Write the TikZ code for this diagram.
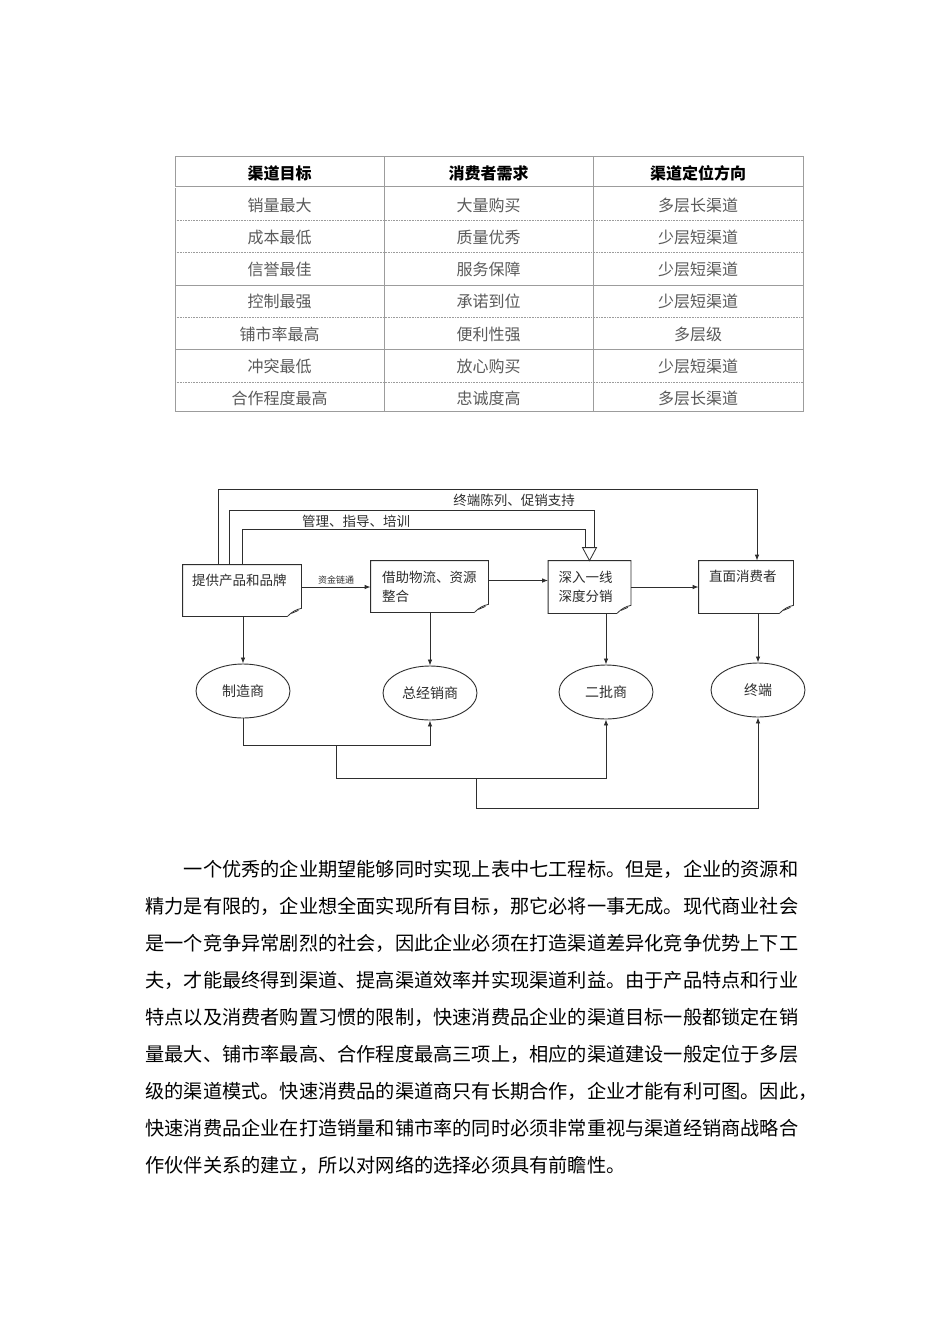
\documentclass[tikz,border=0pt]{standalone}
\usepackage{fontspec}
\setmainfont{Noto Sans CJK SC}
\usetikzlibrary{arrows.meta, positioning, calc, shapes.geometric}
\definecolor{inkgray}{HTML}{2E2E2E}
\definecolor{rulegray}{HTML}{9C9C9C}
\definecolor{cellgray}{HTML}{5A5A5A}

% outline of a note box with a curled lower right corner
\newcommand{\dogear}[1]{%
  \draw[flow] ([xshift=-14]#1.south east) -- (#1.south west) -- (#1.north west)
    -- (#1.north east) -- ([yshift=8]#1.south east)
    .. controls ([xshift=-5,yshift=7]#1.south east) and ([xshift=-9,yshift=5]#1.south east)
    .. ([xshift=-14]#1.south east);
  \draw[flow] ([xshift=-10,yshift=3]#1.south east) -- ([xshift=-3,yshift=6]#1.south east);}

\begin{document}
\begin{tikzpicture}[x=1pt, y=-1pt, >={Latex[length=6pt, width=4.5pt]}, line width=0.8pt,
  tabrule/.style={rulegray, line width=0.6pt},
  tabcell/.style={font=\fontsize{16}{16}\selectfont, text=cellgray, inner sep=0pt},
  headcell/.style={font=\fontsize{16}{16}\selectfont\bfseries, text=black, inner sep=0pt},
  notebox/.style={inner sep=0pt},
  notetext/.style={font=\fontsize{13.5}{19}\selectfont, text=inkgray, align=left, inner sep=0pt, anchor=north west},
  linklabel/.style={font=\fontsize{13.5}{13.5}\selectfont, text=inkgray, inner sep=0pt},
  agent/.style={ellipse, draw=inkgray, line width=0.9pt, minimum width=94, minimum height=54, inner sep=0pt, font=\fontsize{14}{14}\selectfont, text=inkgray},
  flow/.style={draw=inkgray, line width=0.8pt},
  textline/.style={font=\fontsize{19.2}{19.2}\selectfont, anchor=base west, inner sep=0pt}]

% Page
\fill[white] (0,0) rectangle (950,1344);
\useasboundingbox (0,0) rectangle (950,1344);

% Table rules
\draw[tabrule] (175,156) rectangle (803,411);
\draw[tabrule, double, double distance=0.8pt] (175,187) -- (803,187);
\foreach \y in {220,252.5,317,382}
  \draw[tabrule, densely dotted] (175,\y) -- (803,\y);
\foreach \y in {285,349.5}
  \draw[tabrule, line width=1pt] (175,\y) -- (803,\y);
\draw[tabrule] (384,156) -- (384,411) (593,156) -- (593,411);

% Table header
\node[headcell] (goalhead) at (279.5,173) {渠道目标};
\node[headcell] (needhead) at (488.5,173) {消费者需求};
\node[headcell] (wayhead) at (698,173) {渠道定位方向};

% Table rows
\foreach \goal/\need/\way [count=\i] in {销量最大/大量购买/多层长渠道, 成本最低/质量优秀/少层短渠道,
    信誉最佳/服务保障/少层短渠道, 控制最强/承诺到位/少层短渠道, 铺市率最高/便利性强/多层级,
    冲突最低/放心购买/少层短渠道, 合作程度最高/忠诚度高/多层长渠道} {
  \node[tabcell] (goal\i) at (279.5,{173+32.2*\i}) {\goal};
  \node[tabcell] (need\i) at (488.5,{173+32.2*\i}) {\need};
  \node[tabcell] (way\i) at (698,{173+32.2*\i}) {\way};
}

% Note boxes
\node[notebox, minimum width=118, minimum height=51] (tigong) at (242,590.5) {};
\node[notebox, minimum width=117, minimum height=51] (jiezhu) at (429.5,586.5) {};
\node[notebox, minimum width=82, minimum height=52] (shentou) at (589.5,587) {};
\node[notebox, minimum width=94, minimum height=52] (zhimian) at (746,587) {};
\dogear{tigong}
\dogear{jiezhu}
\dogear{shentou}
\dogear{zhimian}

\node[notetext] (tigong-t) at ([xshift=9,yshift=-9]tigong.north west) {提供产品和品牌};
\node[notetext] (jiezhu-t) at ([xshift=11,yshift=-10]jiezhu.north west) {借助物流、资源\\整合};
\node[notetext] (shentou-t) at ([xshift=10,yshift=-10]shentou.north west) {深入一线\\深度分销};
\node[notetext] (zhimian-t) at ([xshift=10,yshift=-9]zhimian.north west) {直面消费者};

% Channel members
\node[agent] (zhizao) at (243,691) {制造商};
\node[agent] (zongjing) at (430,693) {总经销商};
\node[agent] (erpi) at (606,692) {二批商};
\node[agent] (zhongduan) at (758,690) {终端};

% Support lines along the top
\coordinate (top1) at (757,489);
\coordinate (top2) at (594,510);
\coordinate (top3) at (585,529);
\coordinate (headbase) at ([yshift=13]shentou.north);
\draw[flow, ->] ([xshift=-24]tigong.north) |- (top1) -- (top1 |- zhimian.north);
\draw[flow] ([xshift=-13]tigong.north) |- (top2) -- (top2 |- headbase);
\draw[flow] (tigong.north) |- (top3) -- (top3 |- headbase);
\draw[flow, fill=white] ([xshift=-7]headbase) -- ([xshift=7]headbase) -- (shentou.north) -- cycle;
\node[linklabel] (cuxiao) at (514,500) {终端陈列、促销支持};
\node[linklabel] (guanli) at (356,521) {管理、指导、培训};

% Flow between the boxes
\draw[flow, ->] ([yshift=3.5]tigong.east) -- ([yshift=3.5]tigong.east -| jiezhu.west)
  node[midway, above=2pt, font=\fontsize{9}{9}\selectfont, text=inkgray, inner sep=0pt] (zijin) {资金链通};
\draw[flow, ->] ([yshift=6]jiezhu.east) -- ([yshift=6]jiezhu.east -| shentou.west);
\draw[flow, ->] (shentou.east) -- (shentou.east -| zhimian.west);

% Boxes down to the members
\draw[flow, ->] (tigong.south -| zhizao.north) -- (zhizao.north);
\draw[flow, ->] (jiezhu.south -| zongjing.north) -- (zongjing.north);
\draw[flow, ->] (shentou.south -| erpi.north) -- (erpi.north);
\draw[flow, ->] (zhimian.south -| zhongduan.north) -- (zhongduan.north);

% Links along the bottom
\draw[flow, ->] (zhizao.south) -- ++(0,27) -| (zongjing.south);
\coordinate (split1) at (336,745);
\coordinate (split2) at (476,778);
\draw[flow, ->] (split1) -- ++(0,33) -| (erpi.south);
\draw[flow, ->] (split2) -- ++(0,30) -| (zhongduan.south);

% Paragraph
\node[textline] (p1) at (183.4,876) {一个优秀的企业期望能够同时实现上表中七工程标。但是，企业的资源和};
\node[textline] (p2) at (145,913) {精力是有限的，企业想全面实现所有目标，那它必将一事无成。现代商业社会};
\node[textline] (p3) at (145,950) {是一个竞争异常剧烈的社会，因此企业必须在打造渠道差异化竞争优势上下工};
\node[textline] (p4) at (145,987) {夫，才能最终得到渠道、提高渠道效率并实现渠道利益。由于产品特点和行业};
\node[textline] (p5) at (145,1024) {特点以及消费者购置习惯的限制，快速消费品企业的渠道目标一般都锁定在销};
\node[textline] (p6) at (145,1061) {量最大、铺市率最高、合作程度最高三项上，相应的渠道建设一般定位于多层};
\node[textline] (p7) at (145,1098) {级的渠道模式。快速消费品的渠道商只有长期合作，企业才能有利可图。因此，};
\node[textline] (p8) at (145,1135) {快速消费品企业在打造销量和铺市率的同时必须非常重视与渠道经销商战略合};
\node[textline] (p9) at (145,1172) {作伙伴关系的建立，所以对网络的选择必须具有前瞻性。};

\end{tikzpicture}
\end{document}
